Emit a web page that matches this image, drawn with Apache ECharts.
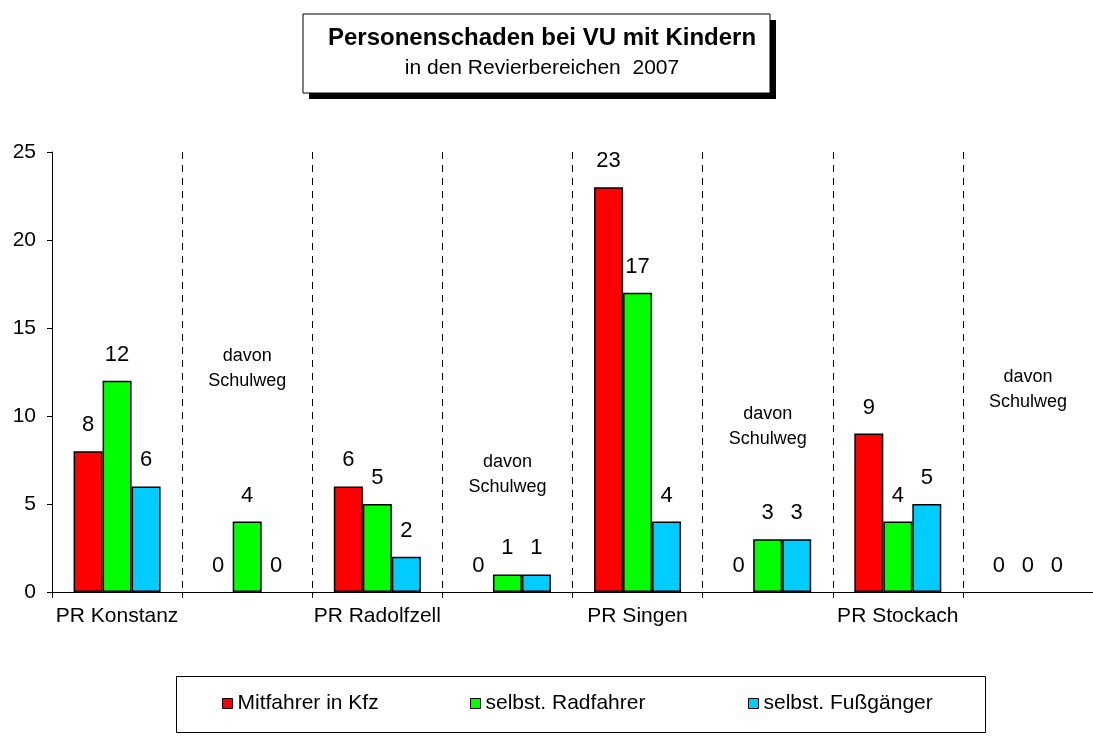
<!DOCTYPE html>
<html>
<head>
<meta charset="utf-8">
<script src="https://cdn.jsdelivr.net/npm/echarts@6/dist/echarts.min.js"></script>
<style>
  html, body { margin: 0; padding: 0; background: #fff; }
  #chart { width: 1093px; height: 736px; }
</style>
</head>
<body>
<div id="chart"></div>
<script>
// Daten
var categories = ["PR Konstanz", "", "PR Radolfzell", "", "PR Singen", "", "PR Stockach", ""];
var mitfahrer = [8, 0, 6, 0, 23, 0, 9, 0];
var radfahrer = [12, 4, 5, 1, 17, 3, 4, 0];
var fussgaenger = [6, 0, 2, 1, 4, 3, 5, 0];
var yTicks = [0, 5, 10, 15, 20, 25];
// "davon Schulweg" notes: [category index, height]
var schulwegNotes = [[1, 12.7], [3, 6.7], [5, 9.4], [7, 11.5]];

var font = "'Liberation Sans', Arial, sans-serif";

var chart = echarts.init(document.getElementById("chart"));

function barSeries(name, data, color) {
  return {
    name: name,
    type: "bar",
    // zero bars: no border so the baseline stays thin
    data: data.map(function (v) {
      return v === 0 ? { value: v, itemStyle: { borderWidth: 0 } } : v;
    }),
    barWidth: 29,
    barGap: "0%",
    itemStyle: { color: color, borderColor: "#000", borderWidth: 1.5 },
    label: {
      show: true,
      position: "top",
      distance: 15,
      color: "#000",
      fontSize: 22,
      fontFamily: font,
    },
  };
}

function legendItem(name, left) {
  return {
    data: [name],
    left: left,
    top: 693,
    padding: 0,
    itemWidth: 10,
    itemHeight: 10,
    itemGap: 0,
    icon: "rect",
    itemStyle: { borderColor: "#000", borderWidth: 1 },
    textStyle: { fontSize: 21, color: "#000", fontFamily: font },
    selectedMode: false,
  };
}

var options = {
  animation: false,
  backgroundColor: "#fff",
  title: {
    text: "Personenschaden bei VU mit Kindern",
    subtext: "in den Revierbereichen  2007",
    left: 537,
    textAlign: "center",
    top: 21,
    itemGap: 8,
    z: 10,
    textStyle: { fontSize: 24, fontWeight: "bold", color: "#000", fontFamily: font },
    subtextStyle: { fontSize: 21, color: "#000", fontFamily: font },
  },
  graphic: [
    { type: "rect", z: 1, shape: { x: 309, y: 20, width: 467, height: 79 }, style: { fill: "#000" } },
    { type: "rect", z: 2, shape: { x: 303, y: 14, width: 467, height: 79 }, style: { fill: "#fff", stroke: "#000", lineWidth: 1 } },
    { type: "rect", z: 1, shape: { x: 176.5, y: 676.5, width: 809, height: 56 }, style: { fill: "#fff", stroke: "#000", lineWidth: 1 } },
  ],
  legend: [
    legendItem("Mitfahrer in Kfz", 222),
    legendItem("selbst. Radfahrer", 470),
    legendItem("selbst. Fußgänger", 748),
  ],
  grid: { left: 52, right: -1, top: 152, bottom: 144, containLabel: false },
  xAxis: {
    type: "category",
    data: categories,
    axisLine: { lineStyle: { color: "#000", width: 1 } },
    axisTick: { show: true, length: 6, lineStyle: { color: "#000" } },
    axisLabel: { color: "#000", fontSize: 21, fontFamily: font, margin: 14, interval: 0 },
    splitLine: { show: true, lineStyle: { color: "#000", type: [7, 6], width: 1 } },
  },
  yAxis: {
    type: "value",
    min: 0,
    max: yTicks[yTicks.length - 1],
    interval: yTicks[1] - yTicks[0],
    axisLine: { show: true, lineStyle: { color: "#000", width: 1 } },
    axisTick: { show: true, length: 5, lineStyle: { color: "#000" } },
    axisLabel: { color: "#000", fontSize: 21, fontFamily: font, margin: 16 },
    splitLine: { show: false },
  },
  series: [
    barSeries("Mitfahrer in Kfz", mitfahrer, "#FF0000"),
    barSeries("selbst. Radfahrer", radfahrer, "#00FF00"),
    barSeries("selbst. Fußgänger", fussgaenger, "#00CCFF"),
    {
      name: "notes",
      type: "scatter",
      data: schulwegNotes,
      symbolSize: 0,
      silent: true,
      itemStyle: { opacity: 1 },
      label: {
        show: true,
        position: "inside",
        formatter: "davon\nSchulweg",
        fontSize: 18,
        lineHeight: 25,
        color: "#000",
        opacity: 1,
        fontFamily: font,
      },
    },
  ],
};

chart.setOption(options);
</script>
</body>
</html>
